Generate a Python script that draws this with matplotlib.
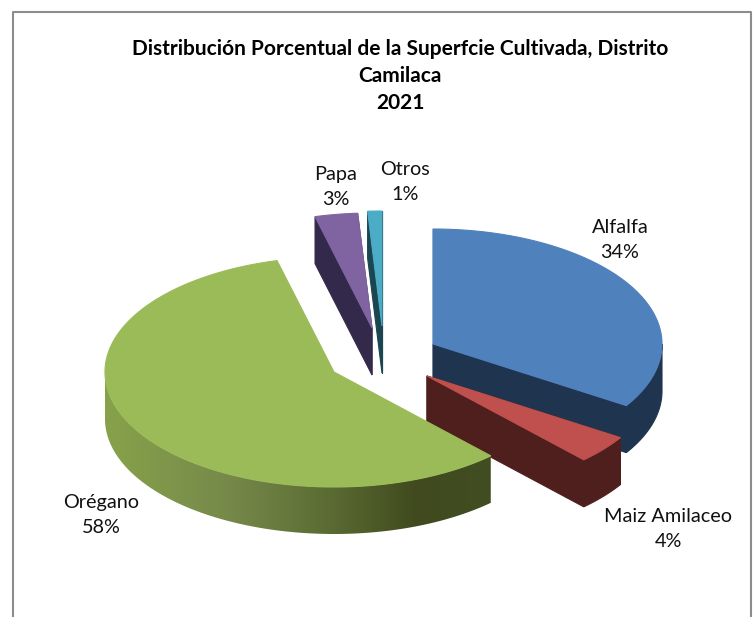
import numpy as np
from matplotlib import pyplot as plt
from matplotlib.colors import LinearSegmentedColormap
from matplotlib.patches import Polygon

plt.rcParams['font.family'] = ['Lato', 'DejaVu Sans']

# values, clockwise from 12 o'clock
categories = ['Alfalfa', 'Maiz Amilaceo', 'Orégano', 'Papa', 'Otros']
percents = [34, 4, 58, 3, 1]

top_colors = ['#4F81BD', '#C0504D', '#9BBB59', '#8064A2', '#4BACC6']
side_colors = ['#1F344F', '#4F1F1E', '#3F4A1F', '#33294A', '#1B4550']

# apex of every exploded slice, in pixels
centers = [(433, 344), (427, 376), (334, 372), (372, 328), (382, 326)]
label_pos = [(620, 240), (668, 529), (101, 515), (336, 187), (405, 182)]
draw_order = [3, 4, 0, 1, 2]

title = 'Distribución Porcentual de la Superfcie Cultivada, Distrito\nCamilaca\n2021'

RX = 229
RY = 115
DEPTH = 47

# shading along the outer side of the big slice
grad_pos = [0, 0.32, 0.57, 0.81, 1]
grad_colors = ['#87A24B', '#76894A', '#5C6D34', '#404A1E', '#424D22']


def rim(cx, cy, t):
    return cx + RX*np.sin(t), cy - RY*np.cos(t)


def draw_slice(ax, i, t1, t2):
    cx, cy = centers[i]
    side = side_colors[i]
    zo = 2 + draw_order.index(i)
    big = categories[i] == 'Orégano'

    # cut faces, the big slice hides its own
    if not big:
        for t in (t1, t2):
            x, y = rim(cx, cy, t)
            face = [(cx, cy), (x, y), (x, y + DEPTH), (cx, cy + DEPTH)]
            ax.add_patch(Polygon(face, fc=side, ec=side, lw=0.8, zorder=zo))

    # outer side, only the front half can be seen
    a = max(t1, np.pi/2)
    b = min(t2, 3*np.pi/2)
    if b > a:
        ts = np.linspace(a, b, 200)
        x, y = rim(cx, cy, ts)
        pts = np.r_[np.c_[x, y], np.c_[x, y + DEPTH][::-1]]
        if big:
            cmap = LinearSegmentedColormap.from_list('side', list(zip(grad_pos, grad_colors)))
            poly = Polygon(pts, fc='none', ec='none', zorder=zo)
            ax.add_patch(poly)
            im = ax.imshow(np.linspace(0, 1, 256).reshape(1, -1), cmap=cmap, aspect='auto',
                           extent=(x.min(), x.max(), y.max() + DEPTH, y.min()), zorder=zo)
            im.set_clip_path(poly)
        else:
            ax.add_patch(Polygon(pts, fc=side, ec=side, lw=0.8, zorder=zo))

    # top
    ts = np.linspace(t1, t2, 300)
    x, y = rim(cx, cy, ts)
    pts = np.r_[[(cx, cy)], np.c_[x, y]]
    ax.add_patch(Polygon(pts, fc=top_colors[i], ec=top_colors[i], lw=0.8, zorder=zo))


fig = plt.figure(figsize=(7.53, 6.17), dpi=100)
ax = fig.add_axes([0, 0, 1, 1])
ax.set_autoscale_on(False)

edges = np.cumsum([0] + percents)/100*2*np.pi
for i in draw_order:
    draw_slice(ax, i, edges[i], edges[i + 1])

for name, p, pos in zip(categories, percents, label_pos):
    ax.text(pos[0], pos[1], '%s\n%d%%' % (name, p), ha='center', va='center',
            fontsize=14.3, linespacing=1.6, color='#111111', zorder=20)

ax.text(400, 76, title, ha='center', va='center', fontsize=15, fontweight='bold',
        linespacing=1.42, color='black', zorder=20)

# chart frame, cut off at the bottom
ax.plot([13, 13, 751, 751], [617, 12, 12, 617], color='#8C8C8C', lw=1.5, zorder=1)

ax.set_xlim(0, 753)
ax.set_ylim(617, 0)
ax.axis('off')
fig.savefig('out.png', dpi=100, facecolor='white')
